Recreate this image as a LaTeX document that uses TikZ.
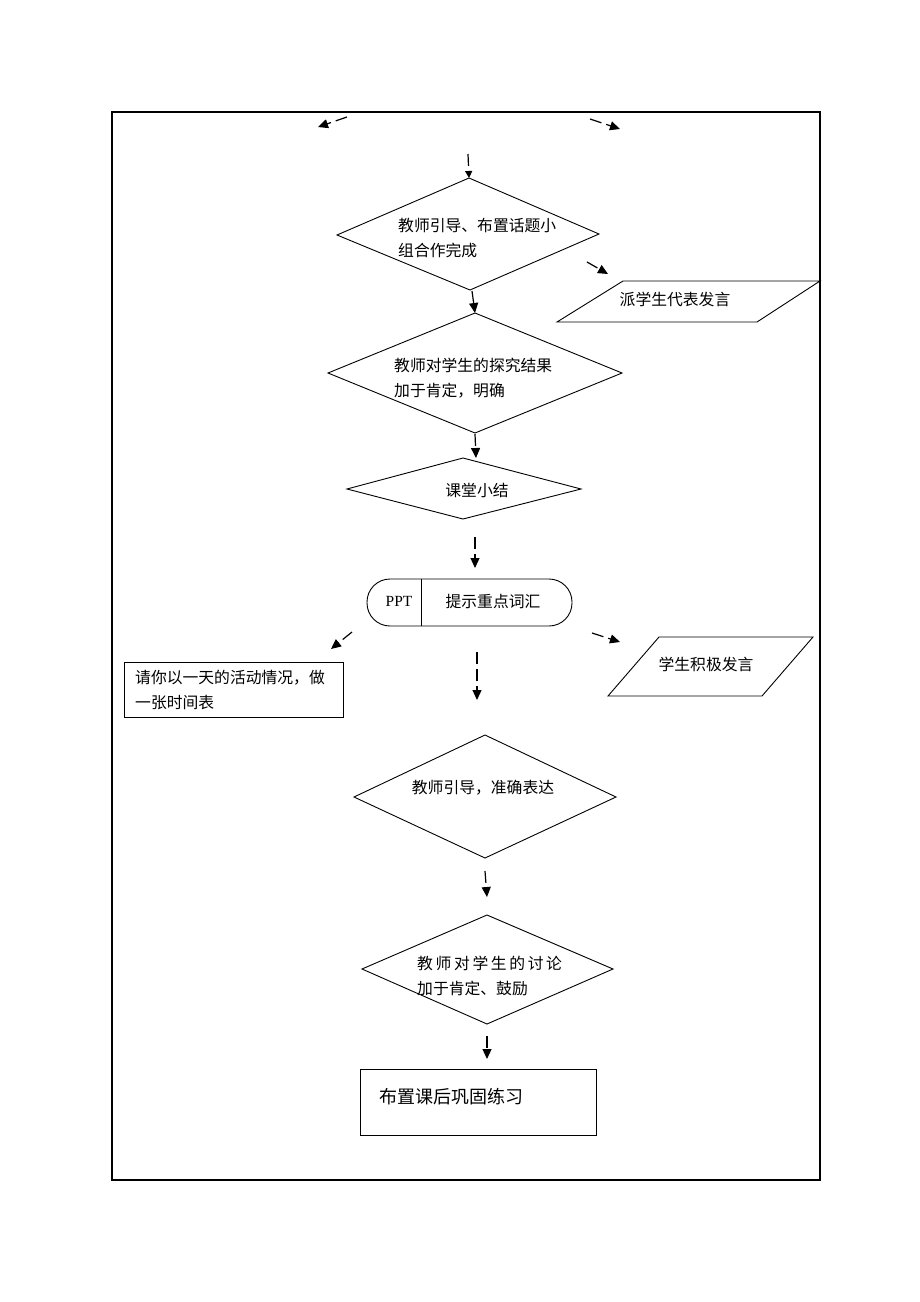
\documentclass[tikz,border=0pt]{standalone}
\usepackage{fontspec}
\setmainfont{Liberation Serif}
\newfontfamily\cjk{Noto Sans CJK SC}
\usetikzlibrary{arrows.meta}
\begin{document}
\begin{tikzpicture}[x=1pt,y=-1pt,
  shp/.style={line width=0.9pt, line join=miter},
  frame/.style={line width=1.8pt},
  arr/.style={line width=1.2pt, dash pattern=on 12pt off 5pt, -{Triangle[length=10pt,width=9pt]}},
  lbl/.style={font=\cjk\fontsize{15.8}{25}\selectfont, inner sep=0pt, align=left},
]
\useasboundingbox (0,0) rectangle (920,1302);
\draw[frame] (112,112) rectangle (820,1180);

% diamond 1
\coordinate (d1t) at (469,178); \coordinate (d1r) at (599,234);
\coordinate (d1b) at (470,290); \coordinate (d1l) at (337,235);
\draw[shp] (d1t) -- (d1r) -- (d1b) -- (d1l) -- cycle;
\node[lbl, anchor=west] (t1) at (398,238.5) {教师引导、布置话题小\\组合作完成};

% parallelogram 1
\coordinate (p1a) at (623,281); \coordinate (p1b) at (820,281);
\coordinate (p1c) at (757,322); \coordinate (p1d) at (557,322);
\draw[shp] (p1a) -- (p1b) -- (p1c) -- (p1d) -- cycle;
\node[lbl] (tp1) at (675,299) {派学生代表发言};

% diamond 2
\coordinate (d2t) at (475,313); \coordinate (d2r) at (622,373);
\coordinate (d2b) at (475,433); \coordinate (d2l) at (328,373);
\draw[shp] (d2t) -- (d2r) -- (d2b) -- (d2l) -- cycle;
\node[lbl, anchor=west] (t2) at (394,378) {教师对学生的探究结果\\加于肯定，明确};

% diamond 3
\coordinate (d3t) at (463,458); \coordinate (d3r) at (581,489);
\coordinate (d3b) at (463,519); \coordinate (d3l) at (347,489);
\draw[shp] (d3t) -- (d3r) -- (d3b) -- (d3l) -- cycle;
\node[lbl] (t3) at (477,490) {课堂小结};

% terminal
\draw[shp, rounded corners=23pt] (367,579) rectangle (572,626);
\coordinate (tdt) at (421,579); \coordinate (tdb) at (421,626);
\draw[shp] (tdt) -- (tdb);
\node[font=\fontsize{15.5}{18}\selectfont, inner sep=0pt] (ppt) at (399,601) {PPT};
\node[lbl] (tterm) at (493,601) {提示重点词汇};

% rect 1
\draw[shp] (124,662) rectangle (343,717);
\node[lbl, anchor=west] (tr1) at (135,689.5) {请你以一天的活动情况，做\\一张时间表};

% parallelogram 2
\coordinate (p2a) at (659,637); \coordinate (p2b) at (813,637);
\coordinate (p2c) at (762,696); \coordinate (p2d) at (608,696);
\draw[shp] (p2a) -- (p2b) -- (p2c) -- (p2d) -- cycle;
\node[lbl] (tp2) at (706,664) {学生积极发言};

% diamond 4
\coordinate (d4t) at (485,735); \coordinate (d4r) at (616,797);
\coordinate (d4b) at (485,858); \coordinate (d4l) at (354,797);
\draw[shp] (d4t) -- (d4r) -- (d4b) -- (d4l) -- cycle;
\node[lbl] (t4) at (483,788) {教师引导，准确表达};

% diamond 5
\coordinate (d5t) at (487,915); \coordinate (d5r) at (613,969);
\coordinate (d5b) at (487,1024); \coordinate (d5l) at (362,969);
\draw[shp] (d5t) -- (d5r) -- (d5b) -- (d5l) -- cycle;
\node[lbl, anchor=west] (t5) at (417,975.5) {教\,师\,对\,学\,生\,的\,讨\,论\\加于肯定、鼓励};

% rect 2
\draw[shp] (360,1069) rectangle (596,1135);
\node[lbl, anchor=west, font=\cjk\fontsize{18}{22}\selectfont] (t6) at (379,1097) {布置课后巩固练习};

% arrows
\coordinate (a1s) at (347,117); \coordinate (a1e) at (318,127);
\coordinate (a2s) at (590,119); \coordinate (a2e) at (620,129);
\coordinate (a3s) at (468,154);
\coordinate (a4s) at (587,262); \coordinate (a4e) at (608,274);
\coordinate (a5s) at (472,291);
\coordinate (a6s) at (475,434); \coordinate (a6e) at (476,458);
\coordinate (a7s) at (475,537); \coordinate (a7e) at (475,568);
\coordinate (a8s) at (352,632); \coordinate (a8e) at (331,649);
\coordinate (a9s) at (477,652); \coordinate (a9e) at (477,700);
\coordinate (a10s) at (592,633); \coordinate (a10e) at (620,642);
\coordinate (a11s) at (485,871); \coordinate (a11e) at (487,897);
\coordinate (a12s) at (487,1036); \coordinate (a12e) at (487,1059);
\draw[arr] (a1s) -- (a1e);
\draw[arr] (a2s) -- (a2e);
\draw[arr, -{Triangle[length=7pt,width=7pt]}] (a3s) -- (d1t);
\draw[arr] (a4s) -- (a4e);
\draw[arr] (a5s) -- (d2t);
\draw[arr] (a6s) -- (a6e);
\draw[arr] (a7s) -- (a7e);
\draw[arr] (a8s) -- (a8e);
\draw[arr] (a9s) -- (a9e);
\draw[arr] (a10s) -- (a10e);
\draw[arr] (a11s) -- (a11e);
\draw[arr] (a12s) -- (a12e);
\end{tikzpicture}
\end{document}
